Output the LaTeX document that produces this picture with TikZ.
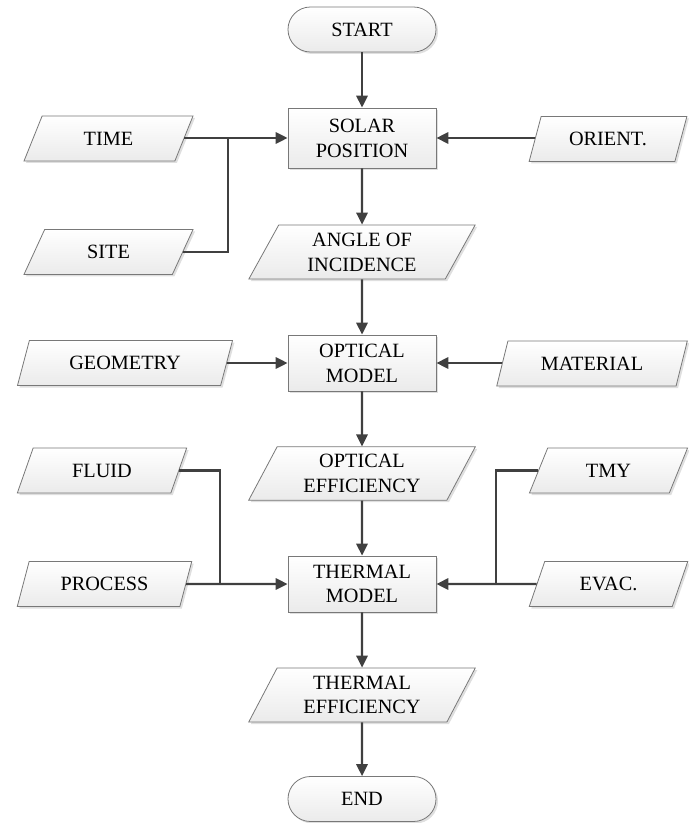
\documentclass[tikz,border=0pt]{standalone}
\usepackage{fontspec}
\setmainfont{Liberation Serif}
\usetikzlibrary{shapes.geometric,arrows.meta,shadows}

\definecolor{linkgray}{RGB}{64,64,64}
\definecolor{edgegray}{RGB}{120,120,120}

\tikzset{
  base/.style={draw=edgegray, line width=0.6pt, top color=white, bottom color=gray!16,
    drop shadow={shadow xshift=1.5pt, shadow yshift=-1.5pt, opacity=0.25, fill=gray},
    font=\fontsize{15.2}{18.6}\selectfont, align=center, inner sep=0pt},
  terminal/.style={base, rectangle, rounded corners=16.8pt, minimum width=111pt, minimum height=33.75pt},
  stepbox/.style={base, rectangle, minimum width=111pt, minimum height=42pt},
  io/.style={base, trapezium, trapezium left angle=63, trapezium right angle=117,
    trapezium stretches=true, minimum height=33.75pt},
  link/.style={draw=linkgray, line width=1.6pt},
  arr/.style={link, -{Triangle[length=9pt,width=8.5pt]}},
}

\begin{document}
\begin{tikzpicture}[x=0.75pt, y=-0.75pt]
\useasboundingbox (0,0) rectangle (688,823);

% main column
\node[terminal] (start) at (362,29.5) {START};
\node[stepbox, minimum height=45pt] (solar) at (362,138) {SOLAR\\POSITION};
\node[io, minimum width=170pt, minimum height=40.5pt] (aoi) at (362,252) {ANGLE OF\\INCIDENCE};
\node[stepbox] (optical) at (362,363) {OPTICAL\\MODEL};
\node[io, minimum width=170pt, minimum height=40pt] (opteff) at (362,473.5) {OPTICAL\\EFFICIENCY};
\node[stepbox] (thermal) at (362,584) {THERMAL\\MODEL};
\node[io, minimum width=170pt, minimum height=40.5pt] (theff) at (362,695) {THERMAL\\EFFICIENCY};
\node[terminal] (finish) at (362,799) {END};

% inputs, left side
\node[io, minimum width=127pt] (time) at (108.5,138.5) {TIME};
\node[io, minimum width=127pt] (site) at (108.5,252) {SITE};
\node[io, minimum width=162pt] (geom) at (125,363) {GEOMETRY};
\node[io, minimum width=127.5pt] (fluid) at (102,470.5) {FLUID};
\node[io, minimum width=131pt] (proc) at (104.5,584) {PROCESS};

% inputs, right side
\node[io, minimum width=118.5pt] (orient) at (608,139) {ORIENT.};
\node[io, minimum width=144pt] (mat) at (592,363.5) {MATERIAL};
\node[io, minimum width=119pt] (tmy) at (608.5,470.5) {TMY};
\node[io, minimum width=119pt] (evac) at (608.5,584) {EVAC.};

% junction points
\coordinate (j1) at (228,138);
\coordinate (j2) at (220,584);
\coordinate (j3) at (496,584);

% main flow
\draw[arr] (start) -- (solar);
\draw[arr] (solar) -- (aoi);
\draw[arr] (aoi) -- (optical);
\draw[arr] (optical) -- (opteff);
\draw[arr] (opteff) -- (thermal);
\draw[arr] (thermal) -- (theff);
\draw[arr] (theff) -- (finish);

% side inputs
\draw[arr] (time.east |- solar.west) -- (solar.west);
\draw[link] (site.east) -| (j1);
\draw[arr] (orient.west |- solar.east) -- (solar.east);
\draw[arr] (geom.east |- optical.west) -- (optical.west);
\draw[arr] (mat.west |- optical.east) -- (optical.east);
\draw[link] (fluid.east) -| (j2);
\draw[arr] (proc.east) -- (thermal.west);
\draw[link] (tmy.west) -| (j3);
\draw[arr] (evac.west) -- (thermal.east);
\end{tikzpicture}
\end{document}
